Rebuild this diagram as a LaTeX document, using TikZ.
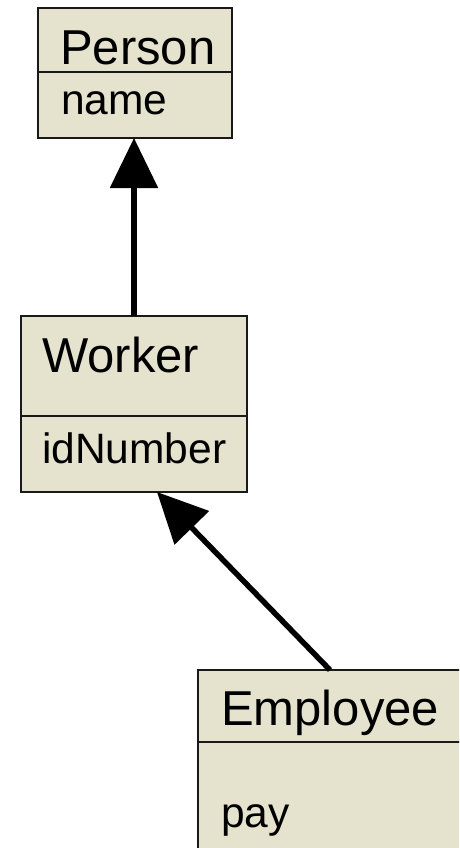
\documentclass[tikz,border=0pt]{standalone}
\usepackage{fontspec}
\setmainfont{Liberation Sans}
\usetikzlibrary{arrows.meta}
\definecolor{classfill}{RGB}{229,227,206}
\definecolor{classline}{RGB}{25,25,25}

\begin{document}
\begin{tikzpicture}[x=1pt, y=-1pt,
    classbox/.style={draw=classline, line width=1.8pt, fill=classfill, inner sep=0pt, outer sep=0pt, anchor=north west},
    divider/.style={draw=classline, line width=1.3pt},
    classname/.style={anchor=base west, inner sep=0pt, font=\fontsize{49}{56}\selectfont},
    attrname/.style={anchor=base west, inner sep=0pt, font=\fontsize{42.5}{50}\selectfont},
    inherit/.style={line width=5.5pt, -{Triangle[width=47pt, length=50pt]}}]
  \useasboundingbox (0,0) rectangle (459,848);
  \clip (0,0) rectangle (459,848);
  % three classes, top to bottom; the last one runs off the page on the right and below
  \node[classbox, minimum width=194pt, minimum height=130pt] (person) at (38,8) {};
  \draw[divider] (38,72) -- (232,72);
  \node[classname] (personname) at (60,65) {Person};
  \node[attrname] (personattr) at (61,115) {name};

  \node[classbox, minimum width=226pt, minimum height=176pt] (worker) at (21,316) {};
  \draw[divider] (21,416) -- (247,416);
  \node[classname] (workername) at (42,372) {Worker};
  \node[attrname] (workerattr) at (42,463) {idNumber};

  \node[classbox, minimum width=276pt, minimum height=200pt] (employee) at (198,670) {};
  \draw[divider] (198,742) -- (474,742);
  \node[classname] (employeename) at (221,725) {Employee};
  \node[attrname] (employeeattr) at (221,827) {pay};

  % generalisation arrows
  \draw[inherit] (worker.north) -- (worker.north |- person.south);
  \draw[inherit] ([xshift=132pt]employee.north west) -- ([xshift=23pt]worker.south);
\end{tikzpicture}
\end{document}
